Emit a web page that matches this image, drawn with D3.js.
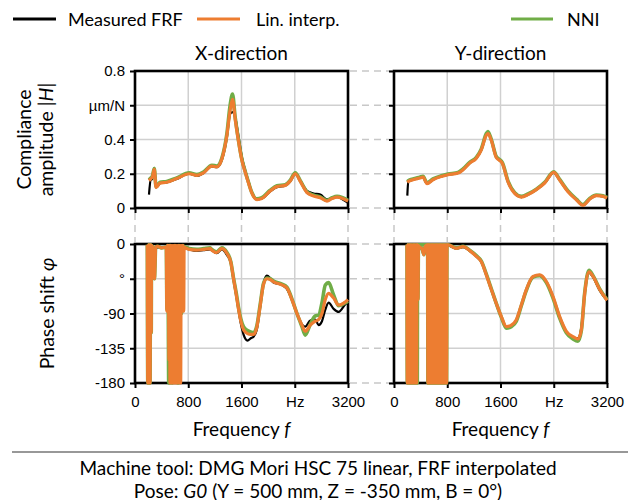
<!DOCTYPE html>
<html>
<head>
<meta charset="utf-8">
<script src="https://cdn.jsdelivr.net/npm/d3@7"></script>
<style>
  html, body { margin: 0; padding: 0; background: #fff; }
  svg { display: block; }
  .lbl { font-family: "Lato", "Open Sans", sans-serif; fill: #000; }
  .tick { font-family: "Liberation Sans", Arial, sans-serif; fill: #000; font-size: 15px; }
</style>
</head>
<body>
<svg id="chart" width="637" height="500"></svg>
<script>
// ---------------- DATA ----------------
const seriesNames = ["Measured FRF", "Lin. interp.", "NNI"];
const panelTitles = ["X-direction", "Y-direction"];
const xTickValues = [0, 800, 1600, 2400, 3200];
const xTickLabels = ["0", "800", "1600", "Hz", "3200"];
const ampTickValues = [0, 0.2, 0.4, 0.6, 0.8];
const ampTickLabels = ["0", "0.2", "0.4", "µm/N", "0.8"];
const phaseTickValues = [-180, -135, -90, -45, 0];
const phaseTickLabels = ["-180", "-135", "-90", "°", "0"];

// Amplitude, X-direction (µm/N)
const freqAmpX = [210, 236, 260, 290, 316, 376, 476, 627, 813, 928, 1028, 1154, 1229, 1304, 1379, 1429, 1465, 1505, 1555, 1605, 1655, 1705, 1756, 1831, 1906, 2031, 2132, 2257, 2332, 2408, 2483, 2583, 2683, 2784, 2884, 2960, 3035, 3120, 3200];
const ampXMeasured = [0.078, 0.165, 0.17, 0.235, 0.12, 0.145, 0.15, 0.17, 0.2, 0.188, 0.204, 0.243, 0.238, 0.28, 0.41, 0.55, 0.56, 0.53, 0.42, 0.30, 0.22, 0.155, 0.09, 0.05, 0.055, 0.097, 0.122, 0.13, 0.155, 0.2, 0.16, 0.1, 0.085, 0.078, 0.05, 0.058, 0.065, 0.05, 0.03];
const ampXLin = [0.16, 0.17, 0.18, 0.225, 0.12, 0.145, 0.15, 0.172, 0.2, 0.19, 0.205, 0.245, 0.24, 0.285, 0.42, 0.57, 0.635, 0.52, 0.39, 0.28, 0.21, 0.146, 0.087, 0.049, 0.055, 0.1, 0.125, 0.132, 0.158, 0.2, 0.155, 0.09, 0.07, 0.06, 0.04, 0.055, 0.063, 0.055, 0.04];
const ampXNNI = [0.165, 0.175, 0.185, 0.23, 0.125, 0.15, 0.155, 0.176, 0.205, 0.195, 0.21, 0.25, 0.245, 0.29, 0.43, 0.6, 0.665, 0.53, 0.395, 0.285, 0.215, 0.15, 0.09, 0.053, 0.06, 0.104, 0.13, 0.136, 0.162, 0.205, 0.16, 0.095, 0.075, 0.065, 0.045, 0.06, 0.068, 0.06, 0.045];

// Amplitude, Y-direction (µm/N)
const freqAmpY = [200, 215, 285, 386, 436, 496, 586, 711, 811, 962, 1037, 1137, 1237, 1312, 1387, 1412, 1462, 1537, 1580, 1628, 1713, 1813, 1913, 2013, 2138, 2264, 2399, 2489, 2614, 2739, 2840, 2940, 3040, 3140, 3200];
const ampYMeasured = [0.072, 0.155, 0.165, 0.175, 0.18, 0.142, 0.165, 0.184, 0.194, 0.204, 0.223, 0.262, 0.291, 0.34, 0.427, 0.435, 0.40, 0.30, 0.285, 0.262, 0.155, 0.087, 0.064, 0.078, 0.107, 0.146, 0.205, 0.165, 0.097, 0.049, 0.016, 0.052, 0.072, 0.068, 0.058];
const ampYLin = [0.15, 0.155, 0.165, 0.175, 0.18, 0.142, 0.165, 0.184, 0.194, 0.204, 0.223, 0.262, 0.291, 0.34, 0.425, 0.435, 0.395, 0.295, 0.28, 0.26, 0.152, 0.085, 0.064, 0.078, 0.107, 0.146, 0.208, 0.163, 0.095, 0.048, 0.016, 0.052, 0.072, 0.068, 0.058];
const ampYNNI = [0.155, 0.16, 0.17, 0.18, 0.185, 0.147, 0.17, 0.188, 0.198, 0.208, 0.228, 0.267, 0.296, 0.345, 0.435, 0.447, 0.40, 0.30, 0.285, 0.265, 0.157, 0.09, 0.068, 0.082, 0.11, 0.15, 0.212, 0.167, 0.1, 0.052, 0.02, 0.056, 0.076, 0.072, 0.062];

// Phase, X-direction ([Hz, deg])
const phaseXMeasured = [[200,-2],[210,-180],[228,-180],[236,-3],[260,-5],[280,-30],[292,-44],[305,-10],[330,-4],[470,-5],[740,-5],[813,-7],[928,-9],[1028,-8],[1130,-7],[1154,-8],[1229,-12],[1304,-7],[1380,-14],[1440,-25],[1480,-46],[1520,-66],[1555,-85],[1590,-103],[1630,-117],[1690,-125],[1740,-122],[1781,-120],[1830,-111],[1881,-81],[1931,-51],[1981,-41],[2030,-44],[2082,-50],[2207,-53],[2282,-58],[2357,-72],[2433,-90],[2508,-104],[2558,-107],[2633,-99],[2708,-98],[2758,-105],[2809,-100],[2859,-85],[2909,-76],[2984,-84],[3060,-88],[3160,-78],[3200,-75]];
const phaseXLinStart = [[185,-1],[192,-180],[200,-180],[208,-1],[216,-180],[226,-180],[234,-1],[240,-2],[244,-115],[248,-2],[260,-3],[278,-20],[292,-45],[300,-30],[310,-4],[340,-3],[400,-5]];
const phaseXLinBlock = [[470,-4],[478,-87],[486,-2],[494,-87],[502,-2],[510,-150],[518,-2],[526,-180],[534,-2],[542,-180],[550,-2],[558,-180],[566,-2],[574,-180],[582,-2],[590,-180],[598,-2],[606,-180],[614,-2],[622,-180],[630,-2],[638,-180],[646,-2],[654,-140],[662,-2],[670,-180],[678,-2],[686,-180],[694,-2],[700,-87],[708,-2],[716,-87],[724,-2],[732,-87],[738,-4]];
const phaseXLinTail = [[760,-5],[813,-7],[928,-8],[1028,-7],[1130,-6],[1154,-8],[1229,-11],[1304,-6],[1380,-12],[1440,-24],[1480,-45],[1520,-65],[1555,-84],[1590,-100],[1630,-111],[1690,-116],[1740,-117],[1781,-117],[1830,-108],[1881,-80],[1931,-52],[1981,-45],[2030,-46],[2082,-49],[2207,-53],[2282,-57],[2357,-72],[2433,-90],[2508,-105],[2558,-113],[2633,-105],[2708,-100],[2758,-98],[2809,-90],[2859,-72],[2909,-64],[2984,-70],[3060,-79],[3160,-75],[3200,-72]];
const phaseXNNIBlock = [[470,-4],[480,-85],[490,-2],[500,-90],[506,-180],[512,-2],[520,-180],[530,-2],[560,-180],[600,-2],[640,-180],[652,-180],[660,-2],[700,-90],[720,-2],[738,-4]];
const phaseXNNITail = [[760,-4],[813,-6],[928,-7],[1028,-6],[1130,-5],[1154,-7],[1229,-10],[1304,-5],[1380,-11],[1440,-23],[1480,-44],[1520,-63],[1555,-82],[1590,-97],[1630,-107],[1690,-112],[1740,-114],[1781,-115],[1830,-106],[1881,-78],[1931,-51],[1981,-44],[2030,-45],[2082,-48],[2207,-52],[2282,-56],[2357,-71],[2433,-90],[2508,-107],[2558,-118],[2633,-104],[2708,-93],[2758,-92],[2809,-76],[2859,-53],[2909,-50],[2984,-66],[3060,-80],[3160,-76],[3200,-74]];

// Phase, Y-direction ([Hz, deg])
const phaseYMeasured = [[200,-2],[215,-180],[240,-180],[255,-2],[300,-3],[352,-2],[360,-70],[368,-3],[420,-6],[450,-14],[470,-3],[811,-2],[936,-6],[1037,-4],[1137,-9],[1237,-16],[1312,-23],[1387,-40],[1462,-59],[1537,-78],[1613,-95],[1688,-108],[1763,-106],[1838,-99],[1913,-80],[1988,-60],[2088,-43],[2189,-41],[2289,-49],[2389,-69],[2489,-95],[2589,-114],[2689,-121],[2764,-122],[2815,-108],[2865,-64],[2930,-37],[2990,-43],[3090,-60],[3200,-73]];
const phaseYBlock1 = [[195,-1],[200,-180],[210,-1],[220,-180],[230,-1],[240,-180],[250,-1],[260,-180],[270,-1],[280,-180],[290,-1],[300,-180],[310,-1],[320,-180],[330,-1],[340,-180],[345,-1]];
const phaseYMid = [[352,-1],[360,-72],[368,-2],[385,-4],[420,-6],[450,-14],[470,-3],[505,-1]];
const phaseYBlock2 = [[510,-180],[520,-1],[530,-180],[540,-1],[550,-180],[560,-1],[570,-180],[580,-1],[590,-180],[600,-1],[610,-180],[620,-1],[630,-180],[640,-1],[650,-180],[660,-1],[670,-180],[680,-1],[690,-180],[700,-1],[710,-180],[720,-1],[730,-180],[740,-1],[750,-180],[760,-1],[770,-180],[780,-1],[790,-180],[796,-1]];
const phaseYLinTail = [[811,-1],[936,-5.6],[1037,-3.4],[1137,-8.6],[1237,-16],[1312,-23],[1387,-40],[1462,-59],[1537,-77],[1613,-94],[1688,-107],[1763,-105],[1838,-98],[1913,-79],[1988,-59],[2088,-42],[2189,-40],[2289,-48.6],[2389,-68],[2489,-94],[2589,-113],[2689,-120],[2764,-123],[2815,-111],[2865,-64],[2930,-36],[2990,-42],[3090,-59],[3200,-73]];
const phaseYNNISpikes = [[346,-1],[350,-180],[354,-1],[505,-1],[512,-180],[516,-1],[782,-1],[788,-180],[794,-1]];
const phaseYNNITail = [[811,-1],[936,-5],[1037,-3],[1137,-8],[1237,-15],[1312,-22],[1387,-39],[1462,-58],[1537,-77],[1613,-95],[1688,-109],[1763,-107],[1838,-100],[1913,-80],[1988,-60],[2088,-43],[2189,-41],[2289,-50],[2389,-70],[2489,-96],[2589,-115],[2689,-123],[2764,-126],[2815,-112],[2865,-63],[2930,-34],[2990,-41],[3090,-58],[3200,-72]];

const captionLine1 = "Machine tool: DMG Mori HSC 75 linear, FRF interpolated";

// ---------------- DRAWING ----------------
const svg = d3.select("#chart");
const colors = ["#000000", "#ED7D31", "#70AD47"];
const widths = [2.2, 3.2, 3.6];
const drawOrder = [0, 2, 1]; // black, green, orange on top

const panelX = [[135, 348], [394, 607]];
const ampRange = [208, 71];
const phRange = [383, 244];

const xScales = panelX.map(r => d3.scaleLinear().domain([0, 3200]).range(r));
const yAmp = d3.scaleLinear().domain([0, 0.8]).range(ampRange);
const yPh = d3.scaleLinear().domain([-180, 0]).range(phRange);

const gridColor = "#d0d0d0";
const dashColor = "#c8c8c8";

// dashed connectors between panels (horizontal)
ampTickValues.forEach(v => {
  svg.append("line").attr("x1", panelX[0][1] + 2).attr("x2", panelX[1][0] - 2)
    .attr("y1", yAmp(v)).attr("y2", yAmp(v))
    .attr("stroke", dashColor).attr("stroke-width", 1.5).attr("stroke-dasharray", "7,5");
});
phaseTickValues.forEach(v => {
  svg.append("line").attr("x1", panelX[0][1] + 2).attr("x2", panelX[1][0] - 2)
    .attr("y1", yPh(v)).attr("y2", yPh(v))
    .attr("stroke", dashColor).attr("stroke-width", 1.5).attr("stroke-dasharray", "7,5");
});
// vertical connectors between top and bottom
xScales.forEach(xs => {
  xTickValues.forEach(v => {
    svg.append("line").attr("x1", xs(v)).attr("x2", xs(v))
      .attr("y1", ampRange[0] + 5).attr("y2", phRange[1] - 2)
      .attr("stroke", dashColor).attr("stroke-width", 1.5).attr("stroke-dasharray", "7,5");
  });
});

function drawPanel(xs, ys, yTicks, showYLabels, yLabels, showXLabels) {
  const g = svg.append("g");
  xTickValues.slice(1, -1).forEach(v => {
    g.append("line").attr("x1", xs(v)).attr("x2", xs(v))
      .attr("y1", ys.range()[0]).attr("y2", ys.range()[1])
      .attr("stroke", gridColor).attr("stroke-width", 1.5);
  });
  yTicks.slice(1, -1).forEach(v => {
    g.append("line").attr("x1", xs.range()[0]).attr("x2", xs.range()[1])
      .attr("y1", ys(v)).attr("y2", ys(v))
      .attr("stroke", gridColor).attr("stroke-width", 1.5);
  });
  g.append("rect").attr("x", xs.range()[0]).attr("y", ys.range()[1])
    .attr("width", xs.range()[1] - xs.range()[0]).attr("height", ys.range()[0] - ys.range()[1])
    .attr("fill", "none").attr("stroke", "#000").attr("stroke-width", 2.6);
  const yAxis = d3.axisLeft(ys).tickValues(yTicks).tickSize(5).tickFormat((d, i) => showYLabels ? yLabels[i] : "");
  const ya = g.append("g").attr("transform", `translate(${xs.range()[0]},0)`).call(yAxis);
  ya.select(".domain").remove();
  ya.selectAll("line").attr("stroke", "#000").attr("stroke-width", 2);
  ya.selectAll("text").attr("class", "tick").attr("font-size", null).attr("font-family", null).attr("x", -10);
  const xAxis = d3.axisBottom(xs).tickValues(xTickValues).tickSize(5).tickFormat((d, i) => showXLabels ? xTickLabels[i] : "");
  const xa = g.append("g").attr("transform", `translate(0,${ys.range()[0]})`).call(xAxis);
  xa.select(".domain").remove();
  xa.selectAll("line").attr("stroke", "#000").attr("stroke-width", 2);
  xa.selectAll("text").attr("class", "tick").attr("font-size", null).attr("font-family", null).attr("y", 13);
  return g;
}

function drawLines(g, xs, ys, seriesList) {
  const line = d3.line().x(d => xs(d[0])).y(d => ys(d[1])).curve(d3.curveMonotoneX);
  drawOrder.forEach(i => {
    g.append("path").datum(seriesList[i])
      .attr("d", line).attr("fill", "none")
      .attr("stroke", colors[i]).attr("stroke-width", widths[i])
      .attr("stroke-linejoin", "round").attr("stroke-linecap", "butt");
  });
}

const zip = (f, v) => f.map((x, i) => [x, v[i]]);

let g = drawPanel(xScales[0], yAmp, ampTickValues, true, ampTickLabels, false);
drawLines(g, xScales[0], yAmp, [zip(freqAmpX, ampXMeasured), zip(freqAmpX, ampXLin), zip(freqAmpX, ampXNNI)]);
g = drawPanel(xScales[1], yAmp, ampTickValues, false, ampTickLabels, false);
drawLines(g, xScales[1], yAmp, [zip(freqAmpY, ampYMeasured), zip(freqAmpY, ampYLin), zip(freqAmpY, ampYNNI)]);
g = drawPanel(xScales[0], yPh, phaseTickValues, true, phaseTickLabels, true);
drawLines(g, xScales[0], yPh, [
  phaseXMeasured,
  [...phaseXLinStart, ...phaseXLinBlock, ...phaseXLinTail],
  [...phaseXLinStart, ...phaseXNNIBlock, ...phaseXNNITail]
]);
g = drawPanel(xScales[1], yPh, phaseTickValues, false, phaseTickLabels, true);
drawLines(g, xScales[1], yPh, [
  phaseYMeasured,
  [...phaseYBlock1, ...phaseYMid, ...phaseYBlock2, ...phaseYLinTail],
  [...phaseYBlock1, ...phaseYNNISpikes, ...phaseYMid, ...phaseYBlock2, ...phaseYNNITail]
]);

panelTitles.forEach((t, i) => {
  svg.append("text").attr("class", "lbl").attr("font-size", 19)
    .attr("x", (panelX[i][0] + panelX[i][1]) / 2).attr("y", 52)
    .attr("text-anchor", "middle").attr("dominant-baseline", "central").text(t);
});

panelX.forEach(r => {
  const t = svg.append("text").attr("class", "lbl").attr("font-size", 19)
    .attr("x", (r[0] + r[1]) / 2).attr("y", 428)
    .attr("text-anchor", "middle").attr("dominant-baseline", "central");
  t.append("tspan").text("Frequency ");
  t.append("tspan").attr("font-style", "italic").text("f");
});

svg.append("text").attr("class", "lbl").attr("font-size", 19.5)
  .attr("transform", `translate(23,${(ampRange[0] + ampRange[1]) / 2}) rotate(-90)`)
  .attr("text-anchor", "middle").attr("dominant-baseline", "central").text("Compliance");
const ampTitle2 = svg.append("text").attr("class", "lbl").attr("font-size", 19.5)
  .attr("transform", `translate(45,${(ampRange[0] + ampRange[1]) / 2}) rotate(-90)`)
  .attr("text-anchor", "middle").attr("dominant-baseline", "central");
ampTitle2.append("tspan").text("amplitude |");
ampTitle2.append("tspan").attr("font-style", "italic").text("H");
ampTitle2.append("tspan").text("|");
const phTitle = svg.append("text").attr("class", "lbl").attr("font-size", 19.5)
  .attr("transform", `translate(46,${(phRange[0] + phRange[1]) / 2}) rotate(-90)`)
  .attr("text-anchor", "middle").attr("dominant-baseline", "central");
phTitle.append("tspan").text("Phase shift ");
phTitle.append("tspan").attr("font-style", "italic").text("φ");

const legendX = [[13, 56, 68], [197, 240, 256], [511, 553, 567]];
seriesNames.forEach((n, i) => {
  svg.append("line").attr("x1", legendX[i][0]).attr("x2", legendX[i][1])
    .attr("y1", 19).attr("y2", 19).attr("stroke", colors[i]).attr("stroke-width", 3);
  svg.append("text").attr("class", "lbl").attr("font-size", 18)
    .attr("x", legendX[i][2]).attr("y", 19).attr("dominant-baseline", "central").text(n);
});

svg.append("line").attr("x1", 12).attr("x2", 628).attr("y1", 452).attr("y2", 452)
  .attr("stroke", "#333").attr("stroke-width", 1.2);
svg.append("text").attr("class", "lbl").attr("font-size", 19)
  .attr("x", 318).attr("y", 467).attr("text-anchor", "middle").attr("dominant-baseline", "central")
  .text(captionLine1);
const cap2 = svg.append("text").attr("class", "lbl").attr("font-size", 19)
  .attr("x", 318).attr("y", 490).attr("text-anchor", "middle").attr("dominant-baseline", "central");
cap2.append("tspan").text("Pose: ");
cap2.append("tspan").attr("font-style", "italic").text("G0");
cap2.append("tspan").text(" (Y = 500 mm, Z = -350 mm, B = 0°)");
</script>
</body>
</html>
